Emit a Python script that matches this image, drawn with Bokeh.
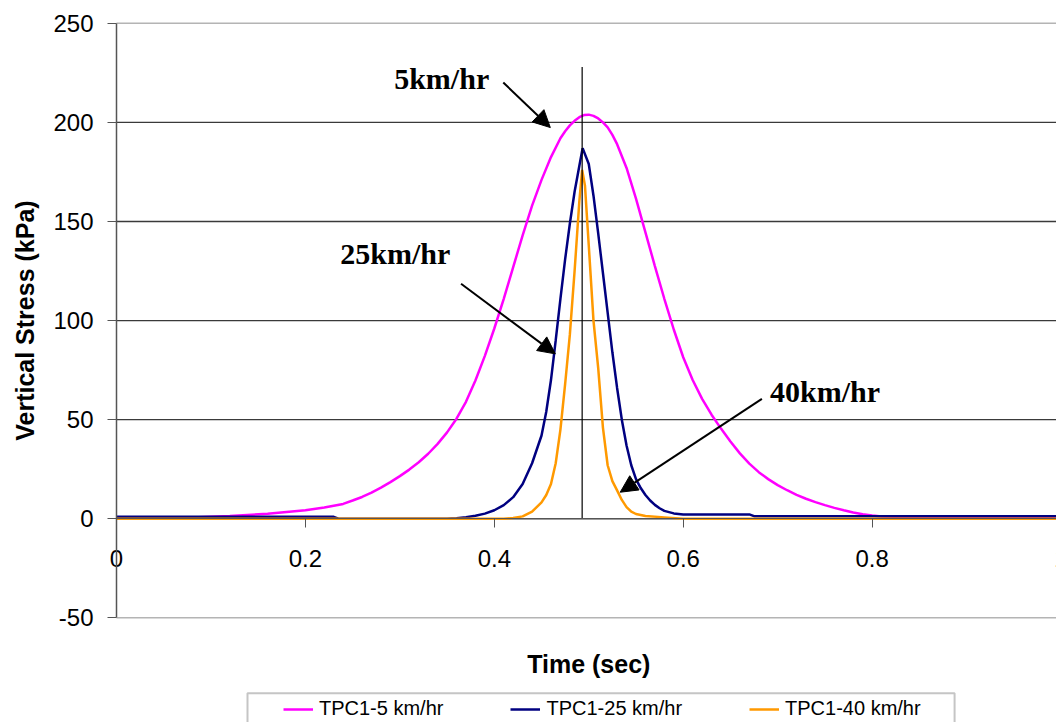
import math
from bokeh.plotting import figure
from bokeh.models import (Range1d, FixedTicker, Arrow, NormalHead, Legend,
                          LegendItem, ColumnDataSource, BoxAnnotation)
from bokeh.core.properties import value
from bokeh.embed import file_html
from bokeh.resources import INLINE

# Vertical stress under the wheel path at three vehicle speeds
time_5 = [0.00, 0.04, 0.08, 0.12, 0.16, 0.20, 0.22, 0.24, 0.25, 0.26, 0.27, 0.28,
          0.29, 0.30, 0.31, 0.32, 0.33, 0.34, 0.35, 0.36, 0.37, 0.38, 0.39, 0.40,
          0.41, 0.42, 0.43, 0.44, 0.45, 0.46, 0.47, 0.475, 0.48, 0.485, 0.49, 0.495,
          0.50, 0.505, 0.51, 0.515, 0.52, 0.525, 0.53, 0.54, 0.55, 0.56, 0.57, 0.58,
          0.59, 0.60, 0.61, 0.62, 0.63, 0.64, 0.65, 0.66, 0.67, 0.68, 0.69, 0.70,
          0.71, 0.72, 0.73, 0.74, 0.75, 0.76, 0.77, 0.78, 0.79, 0.80, 0.81, 0.85,
          0.90, 1.00]
stress_5 = [0.0, 0.2, 0.7, 1.4, 2.5, 4.3, 5.7, 7.5, 9.2, 11.0, 13.2, 15.7,
            18.5, 21.5, 24.8, 28.5, 32.8, 37.8, 43.6, 50.5, 59.0, 69.8, 82.2, 96.0,
            111.0, 127.0, 143.0, 158.0, 171.0, 182.5, 192.0, 195.5, 198.5, 200.8, 202.6, 203.7,
            203.9, 203.3, 202.0, 200.0, 197.5, 193.7, 189.0, 177.0, 161.5, 144.5, 127.5, 111.0,
            95.5, 81.5, 70.0, 60.5, 52.5, 45.5, 39.0, 33.0, 27.8, 23.5, 20.0, 17.0,
            14.4, 12.1, 10.1, 8.4, 6.9, 5.5, 4.3, 3.2, 2.3, 1.6, 1.1, 0.7,
            0.5, 0.4]

time_25 = [0.00, 0.23, 0.235, 0.35, 0.36, 0.37, 0.38, 0.39, 0.40, 0.41, 0.42, 0.43,
           0.44, 0.45, 0.455, 0.46, 0.465, 0.47, 0.475, 0.48, 0.485, 0.49, 0.4935,
           0.50, 0.505, 0.51, 0.515, 0.52, 0.525, 0.53, 0.535, 0.54, 0.545, 0.55,
           0.555, 0.56, 0.565, 0.57, 0.575, 0.58, 0.59, 0.60, 0.67, 0.675, 1.00]
stress_25 = [1.0, 1.0, 0.0, 0.0, 0.3, 0.8, 1.5, 2.6, 4.3, 6.9, 10.9, 17.5,
             28.0, 42.0, 54.0, 70.0, 90.0, 111.0, 131.0, 149.0, 165.0, 178.0, 187.0,
             179.0, 163.0, 144.0, 124.0, 104.0, 84.0, 66.0, 50.0, 37.0, 27.0, 20.0,
             15.5, 12.0, 9.2, 7.0, 5.3, 4.0, 2.7, 2.2, 2.2, 1.3, 1.3]

time_40 = [0.00, 0.41, 0.42, 0.43, 0.44, 0.45, 0.455, 0.46, 0.465, 0.47, 0.475,
           0.48, 0.485, 0.49, 0.493, 0.496, 0.50, 0.505, 0.51, 0.515, 0.52, 0.525,
           0.53, 0.535, 0.54, 0.545, 0.55, 0.56, 0.58, 0.60, 1.00]
stress_40 = [0.0, 0.0, 0.4, 1.2, 3.6, 8.3, 12.0, 17.5, 28.0, 45.0, 68.0,
             93.0, 125.0, 160.0, 176.0, 168.0, 138.0, 100.0, 76.0, 46.0, 27.0, 19.0,
             14.3, 9.5, 5.9, 3.6, 2.4, 1.4, 0.7, 0.0, 0.0]

series_names = ["TPC1-5 km/hr", "TPC1-25 km/hr", "TPC1-40 km/hr"]
series_colors = ["#FF00FF", "#000080", "#FF9900"]

x_ticks = [0.0, 0.2, 0.4, 0.6, 0.8, 1.0]
x_tick_labels = ["0", "0.2", "0.4", "0.6", "0.8", "1"]
y_ticks = [-50, 0, 50, 100, 150, 200, 250]
y_tick_labels = ["-50", "0", "50", "100", "150", "200", "250"]
x_title = "Time (sec)"
y_title = "Vertical Stress (kPa)"

# peak-time marker
marker_time = [0.493]
marker_base = [0.0]
marker_top = [228.0]

# speed call-outs and their arrows
note_text = ["5km/hr", "25km/hr", "40km/hr"]
note_x = [0.294, 0.237, 0.692]
note_y = [222.0, 134.0, 64.0]
arrow_x0 = [0.4095, 0.3648, 0.6833]
arrow_y0 = [220.1, 118.6, 60.5]
arrow_x1 = [0.4593, 0.4646, 0.5333]
arrow_y1 = [197.4, 83.2, 13.4]

SANS = "Liberation Sans"
SERIF = "Liberation Serif"
AXIS = "#555555"
GRID = "#3a3a3a"
EDGE = "#b4b4b4"

# The frame covers the whole canvas: the plot area sits inside it, with room
# left of t = 0 for the stress labels and below -50 kPa for the titles/legend.
T_MIN, T_MAX = 0.0, 0.9952
S_MIN, S_MAX = -50.0, 250.0
p = figure(width=1056, height=722, output_backend="svg", toolbar_location=None,
           x_range=Range1d(-0.1228, T_MAX), y_range=Range1d(-102.8, 261.5),
           min_border=0)
p.outline_line_color = None
p.background_fill_color = "white"
p.border_fill_color = "white"
p.xgrid.visible = False
p.ygrid.visible = False

# horizontal grid and plot-area edges
grid_vals = [v for v in y_ticks if S_MIN < v < S_MAX]
p.segment(x0=[T_MIN] * len(grid_vals), x1=[T_MAX] * len(grid_vals),
          y0=grid_vals, y1=grid_vals, line_color=GRID, line_width=1.3)
p.segment(x0=[T_MIN, T_MIN], x1=[T_MAX, T_MAX], y0=[S_MIN, S_MAX], y1=[S_MIN, S_MAX],
          line_color=EDGE, line_width=1.5)

# axes pinned to t = 0 and 0 kPa
p.yaxis.fixed_location = 0
p.yaxis.bounds = (S_MIN, S_MAX)
p.yaxis.ticker = FixedTicker(ticks=y_ticks)
p.yaxis.major_label_text_color = None
p.yaxis.major_tick_out = 9
p.yaxis.major_tick_in = 0
p.yaxis.minor_tick_out = 0
p.yaxis.minor_tick_in = 0
p.yaxis.axis_line_color = AXIS
p.yaxis.axis_line_width = 1.5
p.yaxis.major_tick_line_color = AXIS

p.xaxis.fixed_location = 0
p.xaxis.bounds = (T_MIN, 1.0)
p.xaxis.ticker = FixedTicker(ticks=x_ticks)
p.xaxis.major_label_text_color = None
p.xaxis.major_tick_out = 9
p.xaxis.major_tick_in = 0
p.xaxis.minor_tick_out = 0
p.xaxis.minor_tick_in = 0
p.xaxis.axis_line_color = AXIS
p.xaxis.major_tick_line_color = AXIS

# tick labels and axis titles
p.text(x=[T_MIN] * len(y_ticks), y=y_ticks, text=y_tick_labels, text_font=value(SANS),
       text_font_size="24px", text_color="black", text_align="right",
       text_baseline="middle", x_offset=-23)
p.text(x=x_ticks, y=[0] * len(x_ticks), text=x_tick_labels, text_font=value(SANS),
       text_font_size="24px", text_color="black", text_align="center",
       text_baseline="middle", y_offset=40)
p.text(x=[T_MIN], y=[(S_MIN + S_MAX) / 2], text=[y_title], text_font=value(SANS),
       text_font_size="25px", text_font_style="bold", text_color="black",
       text_align="center", text_baseline="middle", angle=math.pi / 2, x_offset=-91)
p.text(x=[0.5], y=[S_MIN], text=[x_title], text_font=value(SANS),
       text_font_size="25px", text_font_style="bold", text_color="black",
       text_align="center", text_baseline="middle", y_offset=46)

# curves
renderers = []
for xs, ys, color in zip((time_5, time_25, time_40), (stress_5, stress_25, stress_40),
                         series_colors):
    renderers.append(p.line(xs, ys, line_color=color, line_width=2.5))

p.segment(x0=marker_time, y0=marker_base, x1=marker_time, y1=marker_top,
          line_color="black", line_width=1.2)

p.text(x=note_x, y=note_y, text=note_text, text_font=value(SERIF),
       text_font_style="bold", text_font_size="30px", text_color="black",
       text_align="left", text_baseline="alphabetic")

arrow_src = ColumnDataSource(dict(x0=arrow_x0, y0=arrow_y0, x1=arrow_x1, y1=arrow_y1))
p.add_layout(Arrow(end=NormalHead(size=17, fill_color="black", line_color="black"),
                   x_start="x0", y_start="y0", x_end="x1", y_end="y1",
                   source=arrow_src, line_color="black", line_width=2))

# legend strip at the foot of the chart: a framed box running off the bottom edge
p.add_layout(BoxAnnotation(left=0.1387, right=0.8873, top=-88.1, bottom=-115.0,
                           fill_color="white", fill_alpha=1.0,
                           line_color="#404040", line_width=2, level="annotation"))
legend = Legend(items=[LegendItem(label=n, renderers=[r])
                       for n, r in zip(series_names, renderers)],
                orientation="horizontal", location=(283, 2), margin=0,
                padding=5, spacing=67, glyph_width=30, glyph_height=20,
                label_standoff=6, label_text_font=SANS, label_text_font_size="20px",
                label_text_color="black", border_line_color=None,
                background_fill_alpha=0.0)
p.add_layout(legend, "center")

open("out.html", "w").write(file_html(p, INLINE))
